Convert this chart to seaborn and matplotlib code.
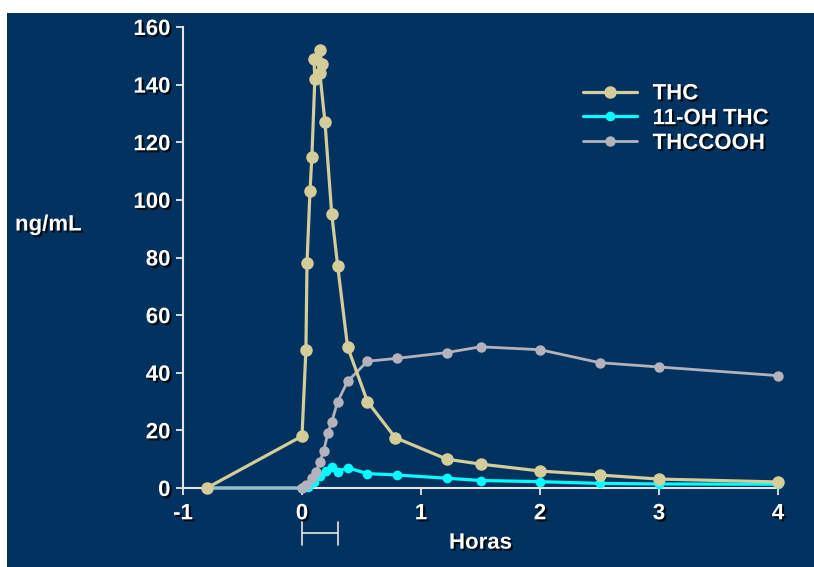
import numpy as np
import pandas as pd
import matplotlib
matplotlib.use("Agg")
import matplotlib.pyplot as plt
import matplotlib.patheffects as pe
import matplotlib.transforms as mtransforms
import seaborn as sns

sns.set_theme(style="white")
plt.rcParams['font.family'] = ['Liberation Sans', 'DejaVu Sans']
plt.rcParams['font.weight'] = 'bold'
plt.rcParams['axes.unicode_minus'] = False

# dados (horas, ng/mL)
thc_h = [-0.8, 0, 0.033, 0.042, 0.067, 0.083, 0.108, 0.1, 0.15, 0.167, 0.15, 0.193,
         0.25, 0.3, 0.383, 0.55, 0.783, 1.217, 1.5, 2.0, 2.5, 3.0, 4.0]
thc_v = [0, 18, 48, 78, 103, 115, 142, 149, 152, 147, 144, 127,
         95, 77, 49, 30, 17.5, 10, 8.3, 5.9, 4.5, 3.1, 2.1]

oh_h = [-0.8, 0, 0.05, 0.1, 0.15, 0.2, 0.25, 0.3, 0.383, 0.55, 0.8, 1.217, 1.5, 2.0, 2.5, 3.0, 4.0]
oh_v = [0, 0, 0.5, 2, 4, 6, 7.3, 5.7, 7, 5, 4.5, 3.4, 2.6, 2.2, 1.6, 1.4, 1.3]

cooh_h = [-0.8, 0, 0.033, 0.083, 0.117, 0.15, 0.183, 0.217, 0.25, 0.3, 0.383, 0.55, 0.8,
          1.217, 1.5, 2.0, 2.5, 3.0, 4.0]
cooh_v = [0, 0, 1, 3.5, 5.5, 9, 13, 19, 23, 30, 37, 44, 45, 47, 49, 48, 43.5, 42, 39]

series = ['THC', '11-OH THC', 'THCCOOH']
xticks = [-1, 0, 1, 2, 3, 4]
yticks = list(range(0, 161, 20))

df_thc = pd.DataFrame({'Horas': thc_h, 'ng/mL': thc_v})
df_oh = pd.DataFrame({'Horas': oh_h, 'ng/mL': oh_v})
df_cooh = pd.DataFrame({'Horas': cooh_h, 'ng/mL': cooh_v})

bg = '#02325f'
fg = 'white'
fs = 16
sombra = [pe.SimplePatchShadow(offset=(1.5, -1.5), shadow_rgbFace='black', alpha=0.8), pe.Normal()]

fig = plt.figure(figsize=(8.14, 5.67), dpi=100)
fig.patch.set_facecolor('white')
fig.patches.append(plt.Rectangle((7 / 814, 0), 1, 1 - 13 / 567, transform=fig.transFigure,
                                 facecolor=bg, edgecolor='none', zorder=-10))

ax = fig.add_axes([183 / 814, 1 - 488 / 567, 595 / 814, 461 / 567])
ax.set_facecolor('none')

estilo = dict(sort=False, estimator=None, clip_on=False, marker='o', markeredgewidth=0, ax=ax)
sns.lineplot(data=df_thc, x='Horas', y='ng/mL', color='#d4cc99', linewidth=2.3,
             markersize=9, label=series[0], zorder=5, **estilo)
sns.lineplot(data=df_oh, x='Horas', y='ng/mL', color='#00ffff', linewidth=2.3,
             markersize=7, label=series[1], zorder=3, **estilo)
sns.lineplot(data=df_cooh, x='Horas', y='ng/mL', color='#b4b2bc', linewidth=2,
             markersize=7.5, label=series[2], zorder=4, **estilo)

ax.set_xlim(-1, 4)
ax.set_ylim(0, 160)
ax.set_xticks(xticks)
ax.set_yticks(yticks)
ax.tick_params(colors='#e6e6e6', labelcolor=fg, labelsize=fs, length=5, width=1.3,
               direction='out', left=True, bottom=True, pad=4)
ax.tick_params(axis='x', pad=6)
for s in ['top', 'right']:
    ax.spines[s].set_visible(False)
for s in ['left', 'bottom']:
    ax.spines[s].set_color('#e6e6e6')
    ax.spines[s].set_linewidth(1.5)
for lbl in ax.get_xticklabels() + ax.get_yticklabels():
    lbl.set_fontweight('bold')
    lbl.set_path_effects(sombra)

ax.set_xlabel('Horas', color=fg, fontsize=fs, fontweight='bold', labelpad=6, path_effects=sombra)
ax.set_ylabel('')
fig.text(15 / 814, 1 - 225 / 567, 'ng/mL', color=fg, fontsize=fs, fontweight='bold',
         ha='left', va='center', path_effects=sombra)

# barra de duração (0 a 0,3 h) abaixo do eixo
tr = mtransforms.blended_transform_factory(ax.transData, fig.transFigure)
yb = 1 - 533 / 567
ax.plot([0, 0.3], [yb, yb], transform=tr, color='#e6e6e6', lw=1.2, clip_on=False)
for xb in [0, 0.3]:
    ax.plot([xb, xb], [1 - 522 / 567, 1 - 545 / 567], transform=tr, color='#e6e6e6',
            lw=1.2, clip_on=False)

leg = ax.legend(loc='upper left', bbox_to_anchor=(0.638, 0.921), frameon=False,
                fontsize=fs, handlelength=2.43, labelspacing=0.17, handletextpad=0.72)
for t in leg.get_texts():
    t.set_color(fg)
    t.set_fontweight('bold')
    t.set_path_effects(sombra)

fig.savefig('out.png', dpi=100, facecolor=fig.get_facecolor())
